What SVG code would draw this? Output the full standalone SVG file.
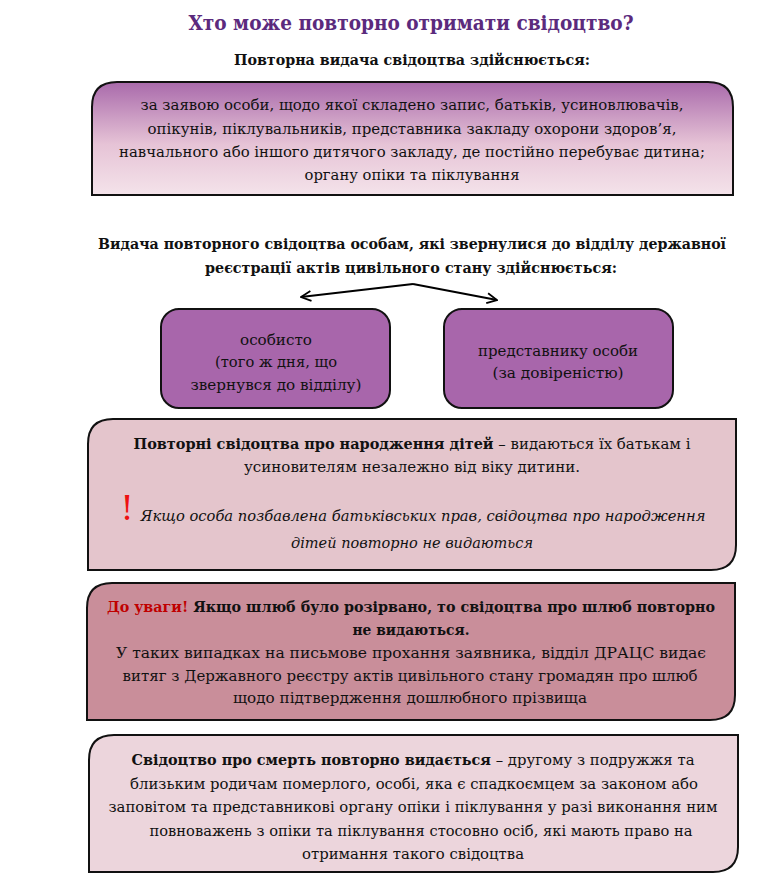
<svg xmlns="http://www.w3.org/2000/svg" width="784" height="885" viewBox="0 0 784 885" font-family="'DejaVu Serif', 'Liberation Serif', serif">
<defs>
<linearGradient id="g1" x1="0" y1="0" x2="0" y2="1">
<stop offset="0" stop-color="#a96aab"/>
<stop offset="0.55" stop-color="#e6c3d6"/>
<stop offset="1" stop-color="#f4e3ea"/>
</linearGradient>
<marker id="arr" viewBox="0 0 12 12" refX="11" refY="6" markerWidth="12" markerHeight="12" markerUnits="userSpaceOnUse" orient="auto">
<path d="M1,1 L11,6 L1,11" fill="none" stroke="#000" stroke-width="1.8"/>
</marker>
</defs>
<style>
text{font-family:"DejaVu Serif","Liberation Serif",serif;fill:#111;text-anchor:middle}
.t{font-size:15.5px}
.b{font-weight:bold;font-size:15px}
.box{stroke:#111;stroke-width:2}
.it{font-style:italic;font-size:15.5px}
</style>
<rect width="784" height="885" fill="#fff"/>
<g id="title">
<text x="411" y="30" textLength="445" lengthAdjust="spacingAndGlyphs" style="font-size:21px;font-weight:bold;fill:#5b2a7d">Хто може повторно отримати свідоцтво?</text>
<text x="412" y="65" class="t b" textLength="356" lengthAdjust="spacingAndGlyphs">Повторна видача свідоцтва здійснюється:</text>
</g>
<g id="box1">
<path class="box" fill="url(#g1)" d="M117,82 H708 Q733,82 733,107 V195 H92 V107 Q92,82 117,82 Z"/>
<text x="412" y="110" class="t" textLength="543" lengthAdjust="spacingAndGlyphs">за заявою особи, щодо якої складено запис, батьків, усиновлювачів,</text>
<text x="412" y="134" class="t" textLength="529" lengthAdjust="spacingAndGlyphs">опікунів, піклувальників, представника закладу охорони здоров’я,</text>
<text x="412" y="157" class="t" textLength="586" lengthAdjust="spacingAndGlyphs">навчального або іншого дитячого закладу, де постійно перебуває дитина;</text>
<text x="412" y="180" class="t" textLength="215" lengthAdjust="spacingAndGlyphs">органу опіки та піклування</text>
</g>
<g id="heading2">
<text x="412" y="249" class="t b" textLength="628" lengthAdjust="spacingAndGlyphs">Видача повторного свідоцтва особам, які звернулися до відділу державної</text>
<text x="411" y="273" class="t b" textLength="412" lengthAdjust="spacingAndGlyphs">реєстрації актів цивільного стану здійснюється:</text>
</g>
<g id="connectors">
<path d="M413,284 L301,297" fill="none" stroke="#000" stroke-width="1.8" marker-end="url(#arr)"/>
<path d="M413,284 L497,300" fill="none" stroke="#000" stroke-width="1.8" marker-end="url(#arr)"/>
</g>
<g id="node-left">
<rect class="box" x="161" y="309" width="229" height="99" rx="18" fill="#a866ab"/>
<text x="276" y="345" class="t" textLength="72" lengthAdjust="spacingAndGlyphs">особисто</text>
<text x="276" y="367" class="t" textLength="122" lengthAdjust="spacingAndGlyphs">(того ж дня, що</text>
<text x="276" y="390" class="t" textLength="171" lengthAdjust="spacingAndGlyphs">звернувся до відділу)</text>
</g>
<g id="node-right">
<rect class="box" x="444" y="309" width="229" height="99" rx="18" fill="#a866ab"/>
<text x="558" y="356" class="t" textLength="160" lengthAdjust="spacingAndGlyphs">представнику особи</text>
<text x="558" y="378" class="t" textLength="131" lengthAdjust="spacingAndGlyphs">(за довіреністю)</text>
</g>
<g id="box3">
<path class="box" fill="#e4c5cc" d="M113,419 H736 V545 Q736,570 711,570 H88 V444 Q88,419 113,419 Z"/>
<text x="412" y="449" class="t" textLength="557" lengthAdjust="spacingAndGlyphs"><tspan class="b">Повторні свідоцтва про народження дітей</tspan> – видаються їх батькам і</text>
<text x="412" y="472" class="t" textLength="336" lengthAdjust="spacingAndGlyphs">усиновителям незалежно від віку дитини.</text>
<text x="127" y="520" style="font-size:34px;fill:#ee1111">!</text>
<text x="423" y="521" class="it" textLength="565" lengthAdjust="spacingAndGlyphs">Якщо особа позбавлена батьківських прав, свідоцтва про народження</text>
<text x="412" y="548" class="it" textLength="242" lengthAdjust="spacingAndGlyphs">дітей повторно не видаються</text>
</g>
<g id="box4">
<path class="box" fill="#c98e9a" d="M112,583 H735 V695 Q735,720 710,720 H87 V608 Q87,583 112,583 Z"/>
<text x="411" y="612" class="t b" textLength="608" lengthAdjust="spacingAndGlyphs"><tspan style="fill:#c00000">До уваги!</tspan> Якщо шлюб було розірвано, то свідоцтва про шлюб повторно</text>
<text x="411" y="635" class="t b" textLength="117" lengthAdjust="spacingAndGlyphs">не видаються.</text>
<text x="411" y="658" class="t" textLength="590" lengthAdjust="spacingAndGlyphs">У таких випадках на письмове прохання заявника, відділ ДРАЦС видає</text>
<text x="410" y="681" class="t" textLength="575" lengthAdjust="spacingAndGlyphs">витяг з Державного реєстру актів цивільного стану громадян про шлюб</text>
<text x="410" y="703" class="t" textLength="354" lengthAdjust="spacingAndGlyphs">щодо підтвердження дошлюбного прізвища</text>
</g>
<g id="box5">
<path class="box" fill="#ecd5dc" d="M114,735 H738 V847 Q738,872 713,872 H89 V760 Q89,735 114,735 Z"/>
<text x="413" y="765" class="t" textLength="563" lengthAdjust="spacingAndGlyphs"><tspan class="b">Свідоцтво про смерть повторно видається</tspan> – другому з подружжя та</text>
<text x="414" y="789" class="t" textLength="568" lengthAdjust="spacingAndGlyphs">близьким родичам померлого, особі, яка є спадкоємцем за законом або</text>
<text x="413" y="812" class="t" textLength="609" lengthAdjust="spacingAndGlyphs">заповітом та представникові органу опіки і піклування у разі виконання ним</text>
<text x="421" y="836" class="t" textLength="543" lengthAdjust="spacingAndGlyphs">повноважень з опіки та піклування стосовно осіб, які мають право на</text>
<text x="413" y="859" class="t" textLength="222" lengthAdjust="spacingAndGlyphs">отримання такого свідоцтва</text>
</g>
</svg>
